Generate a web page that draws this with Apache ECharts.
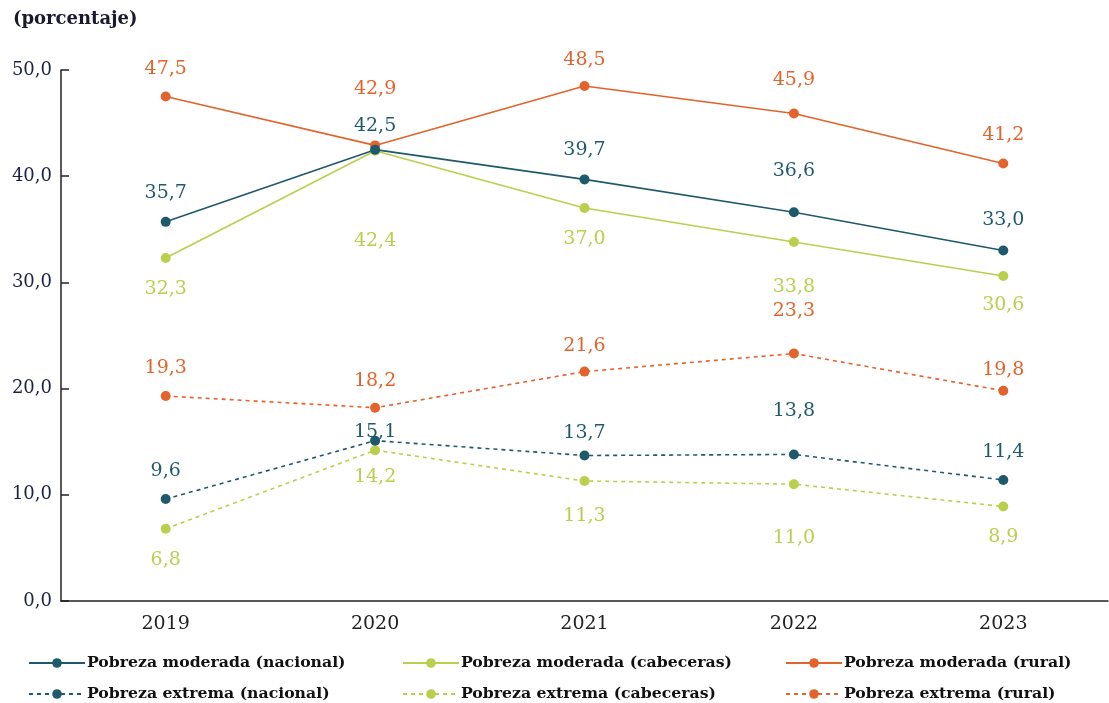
<!DOCTYPE html>
<html><head><meta charset="utf-8">
<script src="https://cdn.jsdelivr.net/npm/echarts@6/dist/echarts.min.js"></script>
<style>html,body{margin:0;padding:0;background:#fff}#c{width:1109px;height:703px}</style>
</head><body><div id="c"></div>
<script>
const years = ['2019','2020','2021','2022','2023'];
const yTicks = [0,10,20,30,40,50];
const modNacional = [35.7, 42.5, 39.7, 36.6, 33.0];
const modCabeceras = [32.3, 42.4, 37.0, 33.8, 30.6];
const modRural = [47.5, 42.9, 48.5, 45.9, 41.2];
const extNacional = [9.6, 15.1, 13.7, 13.8, 11.4];
const extCabeceras = [6.8, 14.2, 11.3, 11.0, 8.9];
const extRural = [19.3, 18.2, 21.6, 23.3, 19.8];
const names = ['Pobreza moderada (nacional)','Pobreza moderada (cabeceras)','Pobreza moderada (rural)',
  'Pobreza extrema (nacional)','Pobreza extrema (cabeceras)','Pobreza extrema (rural)'];

// label placement (style, not data): vertical distance of label centre from point (negative = above)
const labelShift = [
  [-29,-24,-29,-41,-30],
  [31,90,31,45,29],
  [-27,-56,-26,-33,-28],
  [-28,-9,-22,-43,-28],
  [31,27,35,54,31],
  [-28,-27,-26,-42,-21]
];
const C_NAC = '#1f5a6c', C_CAB = '#b8d04c', C_RUR = '#e2632b';
const colors = [C_NAC, C_CAB, C_RUR, C_NAC, C_CAB, C_RUR];
const fmt = v => v.toFixed(1).replace('.', ',');
const FONT = 'DejaVu Serif';
const allData = [modNacional, modCabeceras, modRural, extNacional, extCabeceras, extRural];

const series = allData.map((arr, i) => ({
  name: names[i], type: 'line', symbol: 'circle', symbolSize: 10,
  color: colors[i],
  lineStyle: { color: colors[i], width: 1.6, type: i >= 3 ? [4,4] : 'solid' },
  itemStyle: { color: colors[i] },
  z: 10 - i,
  data: arr.map((v, j) => ({
    value: v,
    label: {
      show: true, position: 'inside', offset: [0, labelShift[i][j]],
      formatter: p => fmt(p.value), color: colors[i], fontFamily: FONT, fontSize: 19
    }
  })),
  emphasis: { disabled: true }, animation: false
}));

const legendCommon = {
  orient: 'vertical', top: 655, height: 48, padding: 0, itemWidth: 56, itemHeight: 12, itemGap: 15,
  textStyle: { fontFamily: FONT, fontSize: 15.7, fontWeight: 'bold', color: '#111', padding: [0,0,0,-3] }
};
const chart = echarts.init(document.getElementById('c'), null, { renderer: 'canvas' });
chart.setOption({
  animation: false,
  title: { text: '(porcentaje)', left: 8, top: 5, textStyle: { fontFamily: FONT, fontSize: 18, fontWeight: 'bold', color: '#1a1a2e' } },
  grid: { left: 61, right: 1, top: 70, bottom: 102, containLabel: false },
  xAxis: {
    type: 'category', data: years, boundaryGap: true,
    axisLine: { lineStyle: { color: '#222', width: 1.5 } },
    axisTick: { inside: true, length: 8, lineStyle: { color: '#222', width: 1.5 } },
    axisLabel: { fontFamily: FONT, fontSize: 19, color: '#222', margin: 14 },
    splitLine: { show: false }
  },
  yAxis: {
    type: 'value', min: yTicks[0], max: yTicks[yTicks.length-1], interval: 10,
    axisLine: { show: true, lineStyle: { color: '#222', width: 1.5 } },
    axisTick: { show: true, inside: true, length: 8, lineStyle: { color: '#222', width: 1.5 } },
    axisLabel: { fontFamily: FONT, fontSize: 18, color: '#1b2340', margin: 9, formatter: v => fmt(v) },
    splitLine: { show: false }
  },
  legend: [
    Object.assign({}, legendCommon, { left: 28, data: [names[0], names[3]] }),
    Object.assign({}, legendCommon, { left: 402, data: [names[1], names[4]] }),
    Object.assign({}, legendCommon, { left: 785, data: [names[2], names[5]] })
  ],
  series: series
});
</script></body></html>
